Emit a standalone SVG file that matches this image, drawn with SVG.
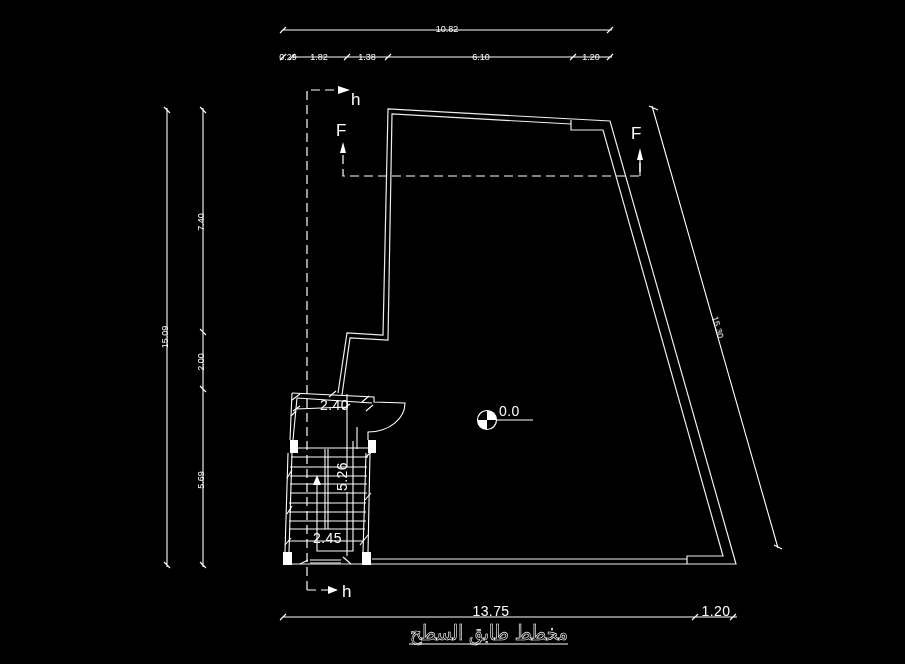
<svg xmlns="http://www.w3.org/2000/svg" width="905" height="664" viewBox="0 0 905 664">
<style>
.l{fill:none;stroke:#fff;stroke-width:1.1}
.w{fill:none;stroke:#eee;stroke-width:1.2}
.d{fill:none;stroke:#fff;stroke-width:1.2;stroke-dasharray:9 5}
text{filter:url(#gray)}
.s{fill:#fff;font-family:"Liberation Sans",Arial,sans-serif;font-size:9px;text-anchor:middle}
.m{fill:#fff;font-family:"Liberation Sans",Arial,sans-serif;font-size:14px;letter-spacing:.4px}
.h{fill:#fff;font-family:"Liberation Sans",Arial,sans-serif;font-size:17px}
.f{fill:#fff}
</style>
<defs><filter id="gray" x="-10%" y="-30%" width="120%" height="160%" color-interpolation-filters="sRGB"><feOffset dx="0" dy="0"/></filter></defs>
<rect width="905" height="664" fill="#000"/>
<g id="connectors">
<path class="l" d="M283 30H612M280 33l6-6M607 33l6-6"/>
<path class="l" d="M293 57H612M280 60l6-6M289 60l6-6M344 60l6-6M385 60l6-6M570 60l6-6M607 60l6-6"/>
<path class="l" d="M167 108V567M164 107l6 6M164 562l6 6"/>
<path class="l" d="M203 108V567M200 107l6 6M200 329l6 6M200 386l6 6M200 562l6 6"/>
<path class="l" d="M652 106L778 548M649 106l9 4M774 545l8 4"/>
<path class="l" d="M283 617H737M280 620l6-6M692 620l6-6M730 620l6-6"/>
<path class="d" d="M307 590V90H340"/>
<path class="d" d="M307 590H330"/>
<path class="d" d="M343 155V176H640V160"/>
<path class="l" d="M640 158V176"/>
<path class="f" d="M338 86L350 90L338 94Z"/>
<path class="f" d="M328 586L338 590L328 594Z"/>
<path class="f" d="M340 153L343 142L346 153Z"/>
<path class="f" d="M637 160L640 148L643 160Z"/>
</g>
<g id="dimension-labels">
<text class="s" x="447" y="32">10.82</text>
<text class="s" x="288" y="60">0.29</text>
<text class="s" x="319" y="60">1.82</text>
<text class="s" x="367" y="60">1.38</text>
<text class="s" x="481" y="60">6.10</text>
<text class="s" x="591" y="60">1.20</text>
<text class="s" transform="translate(168 337) rotate(-90)">15.09</text>
<text class="s" transform="translate(204 222) rotate(-90)">7.40</text>
<text class="s" transform="translate(204 362) rotate(-90)">2.00</text>
<text class="s" transform="translate(204 480) rotate(-90)">5.69</text>
<text class="s" transform="translate(715 328) rotate(74)">15.30</text>
<text class="m" x="491" y="616" text-anchor="middle">13.75</text>
<text class="m" x="716" y="616" text-anchor="middle">1.20</text>
</g>
<g id="section-labels">
<text class="h" x="351" y="105">h</text>
<text class="h" x="342" y="597">h</text>
<text class="h" x="336" y="136">F</text>
<text class="h" x="631" y="139">F</text>
</g>
<g id="walls">
<path class="w" d="M338 393L347 333L383 335L388 109L610 121L736 564H284"/>
<path class="w" d="M342 395L350 338L388 340L392 114L571 124M571 120V130L603 130L723 556H687V564M687 559H372"/>
</g>
<g id="stair">
<path class="l" d="M292 393L374 397V402L405 403C405 418 390 432 368 432V440"/>
<path class="l" d="M297 398L372 403"/>
<path class="l" d="M292 393L290 440M297 398L293 440"/>
<path class="l" d="M288 453L285 552M292 453L289 552M366 453L363 552M370 453L368 552"/>
<path class="l" d="M291 448H368M291 457H368M290 467H367M290 476H367M290 484H367M290 493H367M289 503H366M289 512H366M289 521H366M289 529H365M288 541H363"/>
<path class="l" d="M325 449V529M328 449V529M317 485V551H353V441M357 427V449"/>
<path class="l" d="M296 409L347 407M347 394V467M347 492V556M293 411l7-5M343 409l7-5M366 411l7-6"/>
<path class="l" d="M292 400l8-6M329 397l7-6M362 402l7-6M287 478l5-8M287 514l5-8M285 545l6-7"/>
<path class="l" d="M366 457l6-6M365 500l6-7M360 545l8-10M291 416l5-5"/>
<path class="l" d="M300 564l8-4M343 557l8 7M310 560H341M310 563H341"/>
<path class="f" d="M313 485L317 475L321 485Z"/>
<rect class="f" x="290" y="440" width="8" height="13"/>
<rect class="f" x="368" y="440" width="8" height="13"/>
<rect class="f" x="283" y="552" width="9" height="13"/>
<rect class="f" x="362" y="552" width="9" height="13"/>
<text class="m" x="320" y="410">2.40</text>
<text class="m" x="313" y="543">2.45</text>
<text class="m" transform="translate(347 491) rotate(-90)">5.26</text>
</g>
<g id="level">
<circle cx="487" cy="420" r="9.5" fill="#000" stroke="#fff" stroke-width="1.2"/>
<path class="f" d="M487 420V410.5A9.5 9.5 0 0 1 496.5 420ZM487 420V429.5A9.5 9.5 0 0 1 477.5 420Z"/>
<path class="l" d="M497 420H533"/>
<text class="m" x="499" y="416">0.0</text>
</g>
<g id="title">
<text x="489" y="640" text-anchor="middle" direction="rtl" textLength="158" lengthAdjust="spacingAndGlyphs" font-family="'DejaVu Sans',sans-serif" font-size="21" fill="#000" stroke="#fff" stroke-width="0.7">مخطط طابق السطح</text>
<path class="l" d="M409 644H568"/>
</g>
</svg>
